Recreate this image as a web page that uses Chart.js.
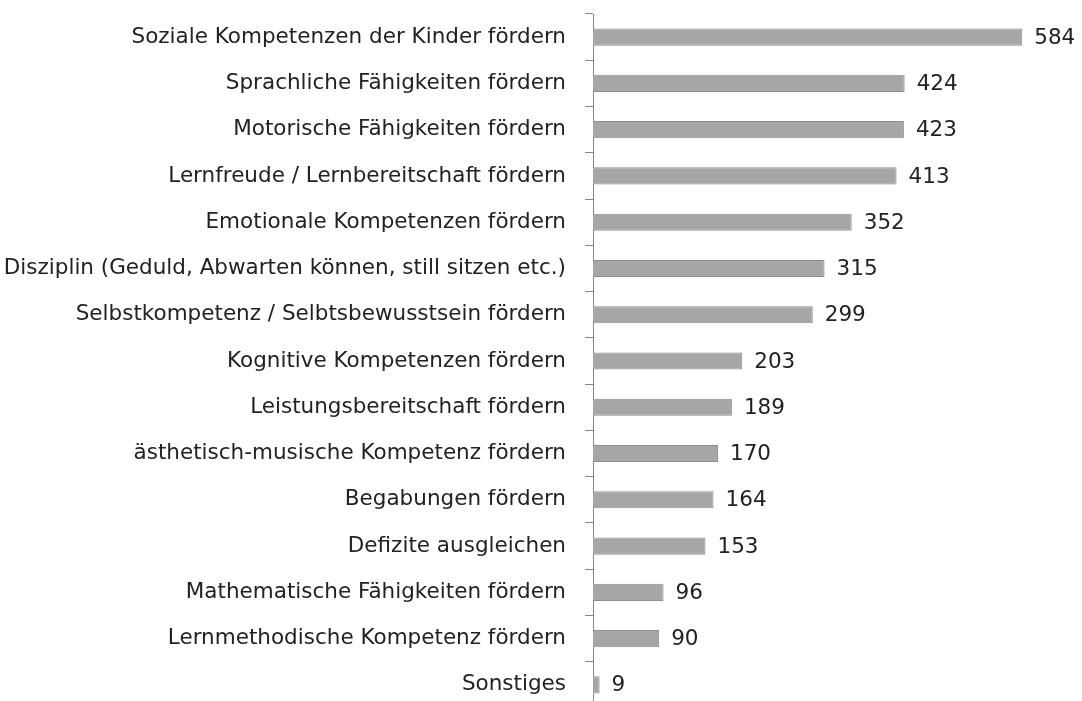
<!DOCTYPE html>
<html>
<head>
<meta charset="utf-8">
<script src="https://cdn.jsdelivr.net/npm/chart.js@4"></script>
<style>
  html, body { margin: 0; padding: 0; background: #fff; overflow: hidden; }
  #wrap { width: 1082px; height: 712px; }
</style>
</head>
<body>
<div id="wrap"><canvas id="chart"></canvas></div>
<script>
const categories = [
    "Soziale Kompetenzen der Kinder fördern",
    "Sprachliche Fähigkeiten fördern",
    "Motorische Fähigkeiten fördern",
    "Lernfreude / Lernbereitschaft fördern",
    "Emotionale Kompetenzen fördern",
    "Disziplin (Geduld, Abwarten können, still sitzen etc.)",
    "Selbstkompetenz / Selbtsbewusstsein fördern",
    "Kognitive Kompetenzen fördern",
    "Leistungsbereitschaft fördern",
    "ästhetisch-musische Kompetenz fördern",
    "Begabungen fördern",
    "Defizite ausgleichen",
    "Mathematische Fähigkeiten fördern",
    "Lernmethodische Kompetenz fördern",
    "Sonstiges"
]
const values = [584, 424, 423, 413, 352, 315, 299, 203, 189, 170, 164, 153, 96, 90, 9]

const fontFamily = "'DejaVu Sans', sans-serif"
const fontSize = 21.5

// value labels at the end of each bar
const valueLabels = {
    id: 'valueLabels',
    afterDatasetsDraw(chart) {
        const ctx = chart.ctx
        const meta = chart.getDatasetMeta(0)
        ctx.save()
        ctx.font = fontSize + "px " + fontFamily
        ctx.fillStyle = "#222"
        ctx.textAlign = "left"
        ctx.textBaseline = "middle"
        meta.data.forEach((bar, i) => {
            ctx.fillText(String(values[i]), bar.x + 12, bar.y + 1)
        })
        ctx.restore()
    }
}

const ctx = document.getElementById("chart").getContext("2d")

new Chart(ctx, {
    type: 'bar',
    data: {
        labels: categories,
        datasets: [{
            data: values,
            backgroundColor: '#a6a6a6',
            borderColor: '#8e8e8e',
            borderWidth: 1,
            categoryPercentage: 1,
            barPercentage: 0.37,
        }]
    },
    options: {
        indexAxis: 'y',
        responsive: true,
        maintainAspectRatio: false,
        animation: false,
        layout: {
            padding: { top: 14, right: 48, bottom: 4, left: 0 }
        },
        plugins: {
            legend: { display: false },
            tooltip: { enabled: false }
        },
        scales: {
            x: {
                display: false,
                min: 0,
                max: 600
            },
            y: {
                offset: true,
                afterFit: scale => {
                    scale.width = 593
                    scale.paddingTop = 0
                    scale.paddingBottom = 0
                },
                grid: {
                    offset: true,
                    drawOnChartArea: false,
                    drawTicks: true,
                    tickLength: 8,
                    color: '#888'
                },
                border: { display: true, color: '#888', width: 1 },
                ticks: {
                    color: '#222',
                    padding: 19,
                    autoSkip: false,
                    font: { family: fontFamily, size: fontSize }
                }
            }
        }
    },
    plugins: [valueLabels]
})
</script>
</body>
</html>
